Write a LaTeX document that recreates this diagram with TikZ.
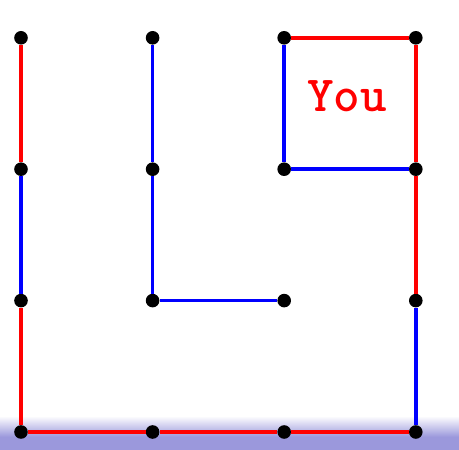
\documentclass[tikz,border=0pt]{standalone}
\usepackage{fontspec}
\definecolor{haze}{RGB}{155,152,220}
\begin{document}
\begin{tikzpicture}[x=3.29cm,y=3.285cm,
	dot/.style={circle,fill=black,inner sep=0pt,minimum size=0.34cm},
	redline/.style={line width=2.5pt,red},
	blueline/.style={line width=2.5pt,blue}]
	\useasboundingbox (-0.525cm,-0.45cm) rectangle (10.95cm,10.8cm);
	% shadow at the bottom
	\fill[haze] (-0.525cm,-0.45cm) rectangle (10.95cm,-0.12cm);
	\shade[top color=white,bottom color=haze] (-0.525cm,-0.12cm) rectangle (10.95cm,0.4cm);
	\foreach \x in {0,1,2,3}
		\foreach \y in {0,1,2,3}
			\node[dot] (p\x\y) at (\x,\y) {};
	% red walls
	\draw[redline] (p03)--(p02);
	\draw[redline] (p01)--(p00)--(p10)--(p20)--(p30);
	\draw[redline] (p31)--(p32)--(p33)--(p23);
	% blue walls
	\draw[blueline] (p02)--(p01);
	\draw[blueline] (p30)--(p31);
	\draw[blueline] (p23)--(p22)--(p32);
	\draw[blueline] (p13)--(p12)--(p11)--(p21);
	\node[red,anchor=base,font=\ttfamily\bfseries\fontsize{36}{36}\selectfont] (you) at (2.478,2.436) {You};
\end{tikzpicture}
\end{document}
